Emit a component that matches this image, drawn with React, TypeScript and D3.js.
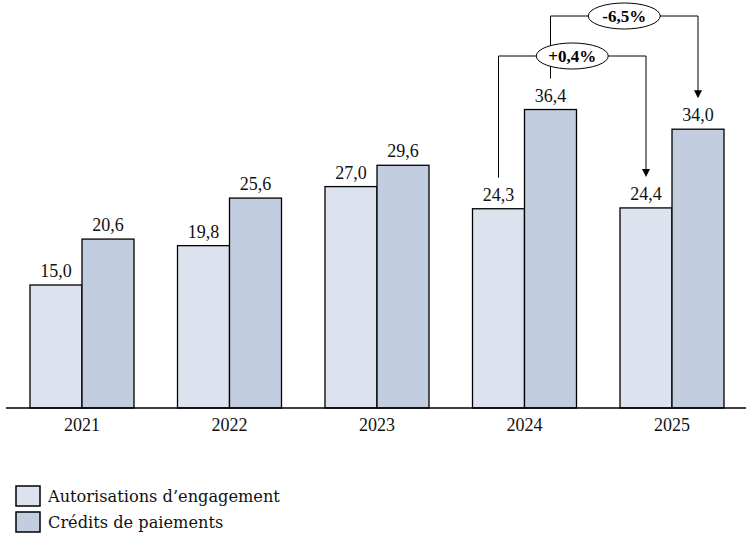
import React from "react";
import * as d3 from "d3";

const years = ["2021", "2022", "2023", "2024", "2025"];
const autorisations = [15.0, 19.8, 27.0, 24.3, 24.4];
const credits = [20.6, 25.6, 29.6, 36.4, 34.0];
const seriesNames = ["Autorisations d’engagement", "Crédits de paiements"];
const seriesColors = ["#dde3ee", "#c3cde0"];
const annotations = [
  { label: "+0,4%", fromYear: "2024", toYear: "2025", series: 0, level: 56 },
  { label: "-6,5%", fromYear: "2024", toYear: "2025", series: 1, level: 16 },
];

const fmt = (v: number) => v.toFixed(1).replace(".", ",");

export default function App() {
  const W = 755;
  const H = 548;
  const font = "'Liberation Serif', 'Times New Roman', serif";
  const legendFont = "'DejaVu Serif', serif";
  const x = d3.scaleBand<string>().domain(years).range([8.25, 745.75]).paddingInner(0).paddingOuter(0);
  const inner = d3.scaleBand<number>().domain([0, 1]).range([0, 104]);
  const y = d3.scaleLinear().domain([0, 40]).range([408, 80]);
  const values = [autorisations, credits];
  const barX = (yr: string, s: number) => x(yr)! + x.bandwidth() / 2 - 52 + inner(s)!;
  const barC = (yr: string, s: number) => barX(yr, s) + inner.bandwidth() / 2;
  const valOf = (yr: string, s: number) => values[s][years.indexOf(yr)];

  const ann = annotations.map((a) => {
    const x1 = barC(a.fromYear, a.series);
    const x2 = barC(a.toYear, a.series);
    const y1 = y(valOf(a.fromYear, a.series)) - 31;
    const y2 = y(valOf(a.toYear, a.series)) - 31;
    return { ...a, x1, x2, y1, y2, cx: (x1 + x2) / 2 };
  });

  return (
    <svg width={W} height={H} style={{ position: "absolute", left: 0, top: 0, background: "#fff" }}>
      {years.map((yr, i) =>
        [0, 1].map((s) => {
          const v = values[s][i];
          return (
            <g key={yr + s}>
              <rect
                x={barX(yr, s)}
                y={y(v)}
                width={inner.bandwidth()}
                height={y(0) - y(v)}
                fill={seriesColors[s]}
                stroke="#000"
                strokeWidth={1.3}
              />
              <text
                x={barC(yr, s)}
                y={y(v) - 8}
                textAnchor="middle"
                fontFamily={font}
                fontSize={18}
                fill="#111"
              >
                {fmt(v)}
              </text>
            </g>
          );
        })
      )}
      <line x1={6} x2={746} y1={y(0)} y2={y(0)} stroke="#000" strokeWidth={1.6} />
      {years.map((yr) => (
        <text
          key={yr}
          x={x(yr)! + x.bandwidth() / 2}
          y={431}
          textAnchor="middle"
          fontFamily={font}
          fontSize={18}
          fill="#111"
        >
          {yr}
        </text>
      ))}
      {ann.map((a) => (
        <g key={a.label + "line"}>
          <path
            d={`M${a.x1},${a.y1}V${a.level}H${a.x2}V${a.y2 - 7}`}
            fill="none"
            stroke="#000"
            strokeWidth={1}
          />
          <path d={`M${a.x2 - 4},${a.y2 - 8}L${a.x2 + 4},${a.y2 - 8}L${a.x2},${a.y2}Z`} fill="#000" />
        </g>
      ))}
      {ann.map((a) => (
        <g key={a.label}>
          <ellipse cx={a.cx} cy={a.level} rx={36} ry={13} fill="#fff" stroke="#000" strokeWidth={1} />
          <text
            x={a.cx}
            y={a.level + 6}
            textAnchor="middle"
            fontFamily={font}
            fontSize={17}
            fontWeight="bold"
            fill="#000"
          >
            {a.label}
          </text>
        </g>
      ))}
      {seriesNames.map((n, i) => (
        <g key={n}>
          <rect x={16} y={486 + i * 26} width={24} height={20} fill={seriesColors[i]} stroke="#000" strokeWidth={1.5} />
          <text x={48} y={502 + i * 26} fontFamily={legendFont} fontSize={16.2} fill="#111">
            {n}
          </text>
        </g>
      ))}
    </svg>
  );
}
